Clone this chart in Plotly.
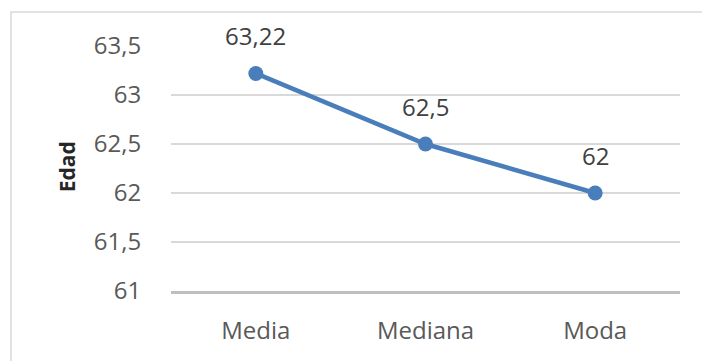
import plotly.graph_objects as go

# Summary statistics of age
categorias = ["Media", "Mediana", "Moda"]
edad = [63.22, 62.5, 62]
etiquetas = ["63,22", "62,5", "62"]
ticks_y = [61, 61.5, 62, 62.5, 63, 63.5]
ticks_y_texto = ["61", "61,5", "62", "62,5", "63", "63,5"]

W, H = 702, 361
m_l, m_r, m_t, m_b = 171, 22, 46, 69.5
plot_w = W - m_l - m_r
plot_h = H - m_t - m_b

FONT = "Open Sans"
AZUL = "#4a7ebb"
SIZE = 24

fig = go.Figure()
fig.add_trace(go.Scatter(
    x=categorias, y=edad,
    mode="lines+markers",
    line=dict(color=AZUL, width=4.5),
    marker=dict(color=AZUL, size=15),
    cliponaxis=False,
    hoverinfo="skip",
))

# value labels above each point
for c, v, t in zip(categorias, edad, etiquetas):
    fig.add_annotation(x=c, y=v, text=t, showarrow=False, yshift=38,
                       font=dict(family=FONT, size=SIZE, color="#404040"))

# axis title
fig.add_annotation(xref="paper", yref="paper",
                   x=(67 - m_l) / plot_w, y=(H - m_b - 167.5) / plot_h,
                   xanchor="center", yanchor="middle",
                   text="<b>Edad</b>", textangle=-90, showarrow=False,
                   font=dict(family=FONT, size=21, color="#262626"))

# chart frame
fig.add_shape(type="rect", xref="paper", yref="paper",
              x0=(11 - m_l) / plot_w, x1=1.2,
              y0=-0.5, y1=(H - m_b - 12) / plot_h,
              line=dict(color="#d9d9d9", width=1.5), layer="below")

fig.update_layout(
    width=W, height=H,
    margin=dict(l=m_l, r=m_r, t=m_t, b=m_b),
    paper_bgcolor="white", plot_bgcolor="white",
    showlegend=False,
    font=dict(family=FONT, size=SIZE, color="#595959"),
    xaxis=dict(
        type="category", range=[-0.5, 2.5],
        showgrid=False, zeroline=False,
        showline=True, linecolor="#bfbfbf", linewidth=3,
        ticks="outside", ticklen=16, tickcolor="rgba(0,0,0,0)",
        tickfont=dict(family=FONT, size=SIZE, color="#595959"),
    ),
    yaxis=dict(
        range=[61, 63.5], tickvals=ticks_y, ticktext=ticks_y_texto,
        showgrid=True, gridcolor="#d9d9d9", gridwidth=1.5,
        zeroline=False, showline=False,
        ticks="outside", ticklen=24, tickcolor="rgba(0,0,0,0)",
        tickfont=dict(family=FONT, size=SIZE, color="#595959"),
    ),
)

fig.write_html("out.html")
